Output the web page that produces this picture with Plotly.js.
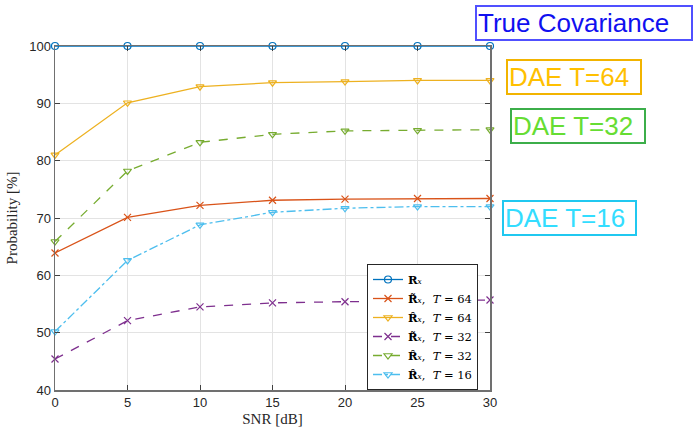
<!DOCTYPE html>
<html><head><meta charset="utf-8">
<script src="https://cdn.plot.ly/plotly-3.0.1.min.js"></script>
<style>html,body{margin:0;padding:0;background:#fff;}#plot{width:696px;height:429px;}</style>
</head><body><div id="plot"></div>
<script>
const snr = [0, 5, 10, 15, 20, 25, 30];
const trueCov = [100, 100, 100, 100, 100, 100, 100];
const tildeT64 = [63.9, 70.1, 72.2, 73.1, 73.3, 73.4, 73.4];
const hatT64 = [81.0, 90.1, 92.9, 93.6, 93.8, 94.0, 94.0];
const tildeT32 = [45.4, 52.1, 54.5, 55.2, 55.4, 55.5, 55.7];
const hatT32 = [65.9, 78.2, 83.2, 84.6, 85.2, 85.3, 85.4];
const hatT16 = [50.2, 62.6, 68.8, 71.0, 71.7, 72.0, 72.0];
const seriesNames = [
  '<b>R</b><i>ₓ</i>',
  '<b>R̃</b><i>ₓ</i>,  <i>T</i> = 64',
  '<b>R̂</b><i>ₓ</i>,  <i>T</i> = 64',
  '<b>R̃</b><i>ₓ</i>,  <i>T</i> = 32',
  '<b>R̂</b><i>ₓ</i>,  <i>T</i> = 32',
  '<b>R̂</b><i>ₓ</i>,  <i>T</i> = 16'
];
const xTicks = [0, 5, 10, 15, 20, 25, 30];
const yTicks = [40, 50, 60, 70, 80, 90, 100];
const boxLabels = ['True Covariance', 'DAE T=64', 'DAE T=32', 'DAE T=16'];

function tr(y, name, color, dash, symbol) {
  return {x: snr, y: y, name: name, type: 'scatter', mode: 'lines+markers', cliponaxis: false,
    line: {color: color, width: 1.3, dash: dash},
    marker: {symbol: symbol, size: 7, color: color, line: {color: color, width: 1.2}}};
}
const data = [
  tr(trueCov, seriesNames[0], '#0072BD', 'solid', 'circle-open'),
  tr(tildeT64, seriesNames[1], '#D95319', 'solid', 'x-thin-open'),
  tr(hatT64, seriesNames[2], '#EDB120', 'solid', 'triangle-down-open'),
  tr(tildeT32, seriesNames[3], '#7E2F8E', 'dash', 'x-thin-open'),
  tr(hatT32, seriesNames[4], '#77AC30', 'dash', 'triangle-down-open'),
  tr(hatT16, seriesNames[5], '#4DBEEE', 'dashdot', 'triangle-down-open')
];
// plot area in px: x 55..490, y 46..390
const L = 55, R = 490, T = 46, B = 390;
const px = v => (v - L) / (R - L);
const py = v => (B - v) / (B - T);
function box(text, x, y, w, color, border) {
  return {text: text, xref: 'paper', yref: 'paper', x: px(x), y: py(y), xanchor: 'left', yanchor: 'top',
    showarrow: false, align: 'left', width: w,
    font: {family: 'Liberation Sans, Arial, sans-serif', size: 26, color: color},
    bordercolor: border, borderwidth: 2, borderpad: 1, bgcolor: 'rgba(255,255,255,1)'};
}
const axisCommon = {
  showline: true, linecolor: '#707070', linewidth: 1.5, mirror: 'ticks',
  ticks: 'inside', ticklen: 5, tickcolor: '#404040', showgrid: true, gridcolor: '#e3e3e3', gridwidth: 1,
  zeroline: false, tickfont: {family: 'Liberation Sans, Arial, sans-serif', size: 13, color: '#262626'}
};
const layout = {
  width: 696, height: 429, paper_bgcolor: '#fff', plot_bgcolor: '#fff',
  margin: {l: L, r: 696 - R, t: T, b: 429 - B},
  showlegend: true,
  xaxis: Object.assign({}, axisCommon, {range: [0, 30], tickvals: xTicks, ticktext: xTicks.map(String),
    title: {text: 'SNR [dB]', standoff: 4, font: {family: 'Liberation Serif, serif', size: 15, color: '#262626'}}}),
  yaxis: Object.assign({}, axisCommon, {range: [40, 100], tickvals: yTicks, ticktext: yTicks.map(String),
    title: {text: 'Probability [%]', standoff: 8, font: {family: 'Liberation Serif, serif', size: 15, color: '#262626'}}}),
  legend: {x: px(367), y: py(327), xanchor: 'left', yanchor: 'middle', bgcolor: '#fff',
    bordercolor: '#262626', borderwidth: 1, tracegroupgap: 0, itemwidth: 30,
    font: {family: 'DejaVu Serif, serif', size: 11.5, color: '#000'}},
  annotations: [
    box(boxLabels[0], 475, 5, 212, '#1010f0', '#5050ff'),
    box(boxLabels[1], 506, 59, 130, '#ffc000', '#f2b400'),
    box(boxLabels[2], 510, 108, 130, '#66dd33', '#3cae4a'),
    box(boxLabels[3], 502, 200, 129, '#33ddff', '#20c8f0')
  ]
};
Plotly.newPlot('plot', data, layout, {displayModeBar: false, staticPlot: true});
</script></body></html>
